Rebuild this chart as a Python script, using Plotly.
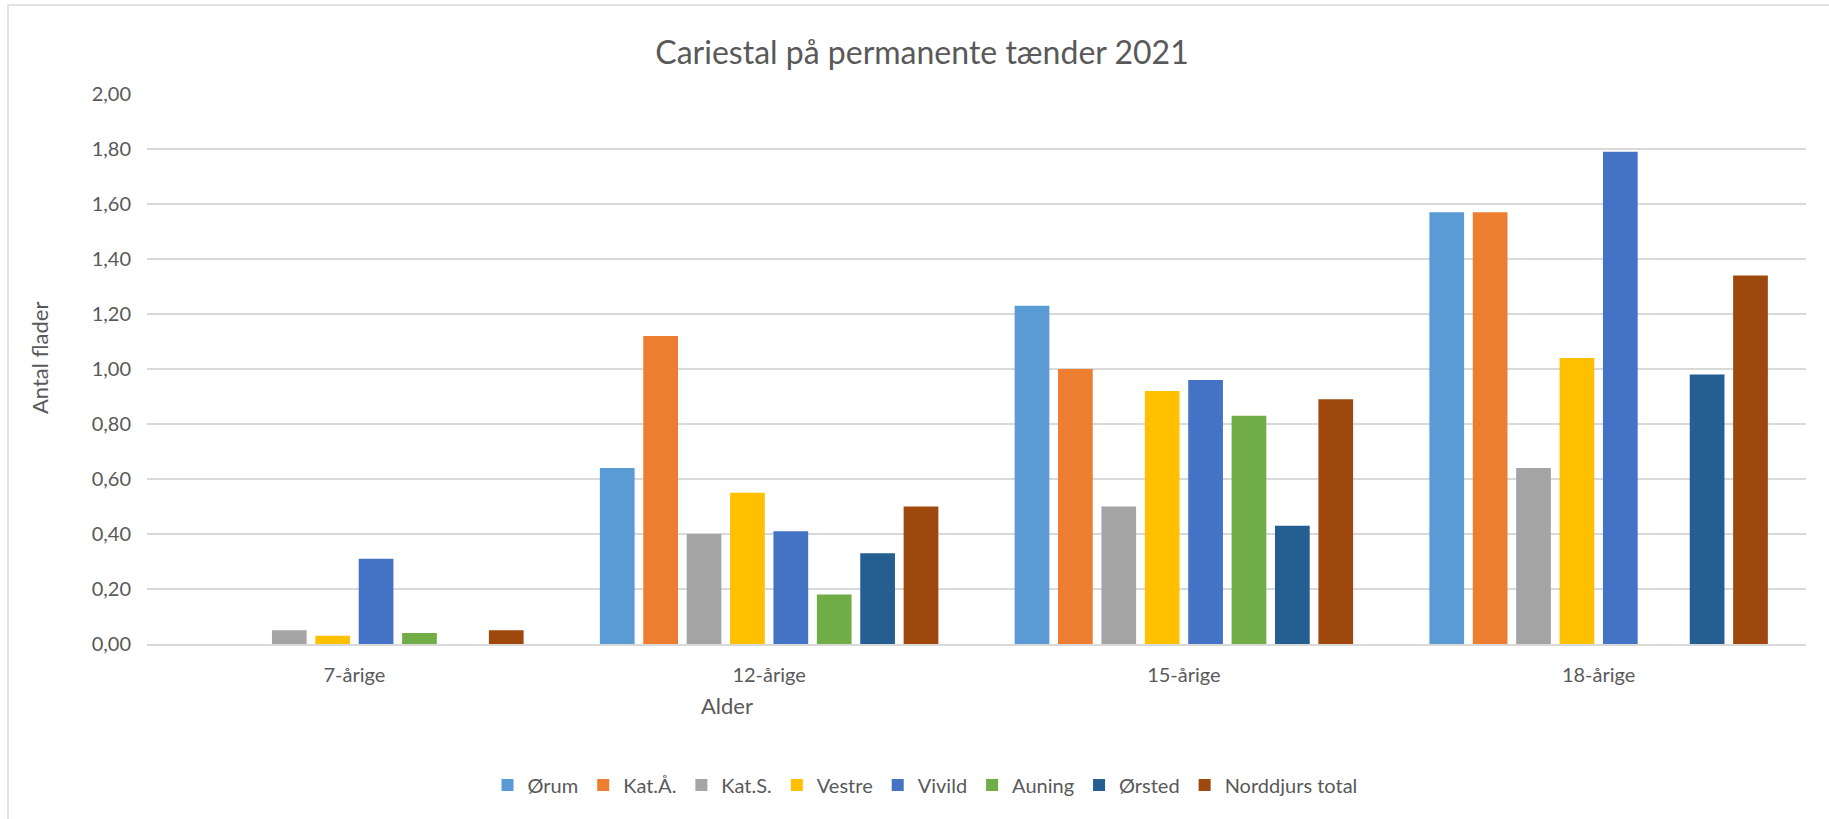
import plotly.graph_objects as go

categories = ["7-årige", "12-årige", "15-årige", "18-årige"]
series_names = ["Ørum", "Kat.Å.", "Kat.S.", "Vestre", "Vivild", "Auning", "Ørsted", "Norddjurs total"]
orum = [0, 0.64, 1.23, 1.57]
kat_aa = [0, 1.12, 1.00, 1.57]
kat_s = [0.05, 0.40, 0.50, 0.64]
vestre = [0.03, 0.55, 0.92, 1.04]
vivild = [0.31, 0.41, 0.96, 1.79]
auning = [0.04, 0.18, 0.83, None]
orsted = [0, 0.33, 0.43, 0.98]
norddjurs = [0.05, 0.50, 0.89, 1.34]
series_values = [orum, kat_aa, kat_s, vestre, vivild, auning, orsted, norddjurs]
series_colors = ["#5B9BD5", "#ED7D31", "#A5A5A5", "#FFC000", "#4472C4", "#70AD47", "#255E91", "#9E480E"]
y_ticks = [0, 0.2, 0.4, 0.6, 0.8, 1.0, 1.2, 1.4, 1.6, 1.8, 2.0]

title_text = "Cariestal på permanente tænder 2021"
x_title = "Alder"
y_title = "Antal flader"

FONT = "Lato"
TXT = "#595959"
GRID = "#D9D9D9"

W, H = 1829, 819
L, R, T, B = 147, 23, 94, 175
PW, PH = W - L - R, H - T - B

def px_x(x):
    return (x - L) / PW

def px_y(y):
    return (H - B - y) / PH

fig = go.Figure()
for name, vals, col in zip(series_names, series_values, series_colors):
    fig.add_trace(go.Bar(name=name, x=categories, y=vals, marker=dict(color=col, line=dict(width=0))))

fig.update_layout(
    width=W, height=H,
    margin=dict(l=L, r=R, t=T, b=B),
    paper_bgcolor="white", plot_bgcolor="white",
    separators=", ",
    barmode="group", bargap=0.163, bargroupgap=0.2,
    font=dict(family=FONT, color=TXT, size=20),
    title=dict(text=title_text, x=922 / W, xanchor="center", y=1 - 53 / H, yanchor="middle",
               font=dict(family=FONT, size=32, color=TXT)),
    showlegend=True,
    legend=dict(orientation="h", x=px_x(925), xanchor="center", y=px_y(785), yanchor="middle",
                font=dict(family=FONT, size=20, color=TXT), itemwidth=30, traceorder="normal"),
    xaxis=dict(showgrid=False, showline=True, linecolor=GRID, linewidth=1.5, ticks="",
               tickfont=dict(family=FONT, size=20, color=TXT), ticklabelstandoff=12),
    yaxis=dict(range=[0, 2], tickvals=y_ticks, tickformat=".2f", showgrid=True, gridcolor=GRID,
               gridwidth=1.5, zeroline=False, showline=False, ticks="",
               tickfont=dict(family=FONT, size=20, color=TXT), ticklabelstandoff=15),
    annotations=[
        dict(text=x_title, xref="paper", yref="paper", x=px_x(727), y=px_y(705), xanchor="center",
             yanchor="middle", showarrow=False, font=dict(family=FONT, size=22, color=TXT)),
        dict(text=y_title, xref="paper", yref="paper", x=px_x(39), y=px_y(358), xanchor="center",
             yanchor="middle", textangle=-90, showarrow=False, font=dict(family=FONT, size=22, color=TXT)),
    ],
    shapes=[
        dict(type="rect", xref="paper", yref="paper", x0=px_x(8), x1=px_x(W + 20), y0=px_y(H + 20), y1=px_y(5),
             line=dict(color=GRID, width=1.5), fillcolor="rgba(0,0,0,0)", layer="below"),
    ],
)

fig.write_html("out.html", config={"displayModeBar": False},
               post_script="document.body.style.margin='0';document.body.style.overflow='hidden';")
